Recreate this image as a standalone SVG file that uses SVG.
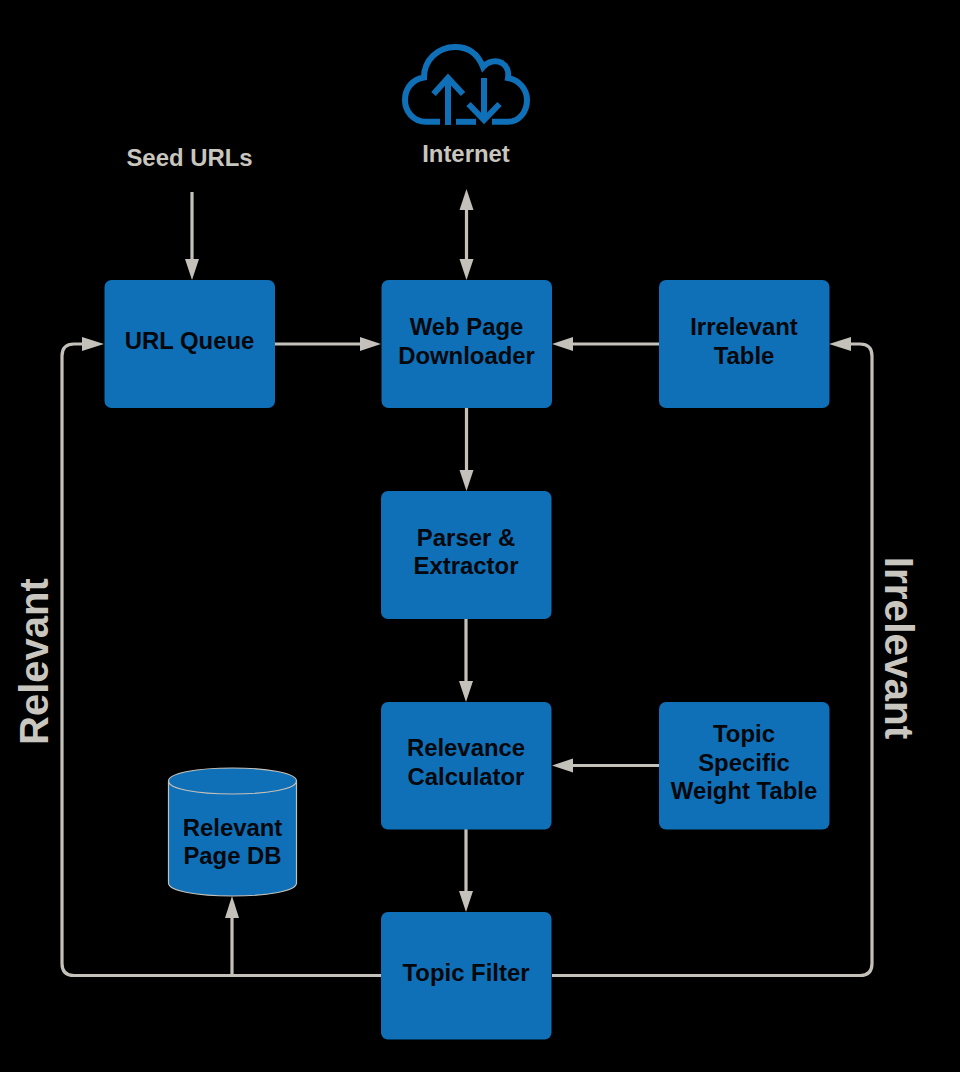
<svg xmlns="http://www.w3.org/2000/svg" width="960" height="1072" viewBox="0 0 960 1072">
<style>
.n{fill:#0f70b7}
.t{font-family:"Liberation Sans",Arial,sans-serif;font-weight:700;font-size:23.9px;fill:#04070b;text-anchor:middle}
.l{font-family:"Liberation Sans",Arial,sans-serif;font-weight:700;fill:#c9c6bf;text-anchor:middle}
.c{fill:none;stroke:#c4c1ba;stroke-width:3.2}
.a{fill:#c4c1ba}
.i{fill:none;stroke:#0f70b7;stroke-width:6}
</style>
<rect width="960" height="1072" fill="#000"/>
<g id="connectors">
<path class="c" d="M192 192V262"/><polygon class="a" points="192,280 185,259 199,259"/>
<path class="c" d="M466.500 208V262"/><polygon class="a" points="466.500,189 459.500,210 473.500,210"/><polygon class="a" points="466.500,280 459.500,259 473.500,259"/>
<path class="c" d="M275 344H362"/><polygon class="a" points="381,344 360,337 360,351"/>
<path class="c" d="M659 344H572"/><polygon class="a" points="552,344 573,337 573,351"/>
<path class="c" d="M466.500 408V472"/><polygon class="a" points="466.500,491 459.500,470 473.500,470"/>
<path class="c" d="M466 619V683"/><polygon class="a" points="466,702 459,681 473,681"/>
<path class="c" d="M659 765.500H572"/><polygon class="a" points="552,765.500 573,758.500 573,772.500"/>
<path class="c" d="M466 829V893"/><polygon class="a" points="466,912 459,891 473,891"/>
<path class="c" d="M381 975.500H74Q62 975.500 62 963.500V356Q62 344 74 344H85"/><polygon class="a" points="104,344 82,337 82,351"/>
<path class="c" d="M232 975V916"/><polygon class="a" points="232,896 225,918 239,918"/>
<path class="c" d="M552 975.500H860Q872 975.500 872 963.500V356Q872 344 860 344H849"/><polygon class="a" points="829,344 851,337 851,351"/>
</g>
<g id="internet">
<path class="i" d="M440 121.800H426C413 121.800 405 111 405 100C405 88 413 79 424 77.500C424 60 438 47 455 47C468 47 478 54 483 67C488 61 496 60 502 63C507 66 509 72 508 78C519 80 527 89 527 100C527 112 519 121.800 508 121.800H492"/>
<path class="i" d="M448 125V78M433.500 94L448 78L463 94"/>
<path class="i" d="M484 78V120M468.500 104L484 120L499.500 104"/>
<path class="i" d="M456 121.800H476"/>
<text class="l" x="466" y="161.500" font-size="23.900">Internet</text>
</g>
<text id="seed" class="l" x="189.500" y="165.500" font-size="23.900">Seed URLs</text>
<g id="url-queue"><rect class="n" x="104.500" y="280" width="170.500" height="128" rx="7"/><text class="t" x="189.500" y="349">URL Queue</text></g>
<g id="downloader"><rect class="n" x="381.500" y="280" width="170.500" height="128" rx="7"/><text class="t" x="466.500" y="335">Web Page</text><text class="t" x="466.500" y="364">Downloader</text></g>
<g id="irrelevant-table"><rect class="n" x="659" y="280" width="170.500" height="128" rx="7"/><text class="t" x="744" y="335">Irrelevant</text><text class="t" x="744" y="364">Table</text></g>
<g id="parser"><rect class="n" x="381" y="491" width="170.500" height="128" rx="7"/><text class="t" x="466" y="545.500">Parser &amp;</text><text class="t" x="466" y="574">Extractor</text></g>
<g id="calculator"><rect class="n" x="381" y="702" width="170.500" height="127.500" rx="7"/><text class="t" x="466" y="756">Relevance</text><text class="t" x="466" y="785">Calculator</text></g>
<g id="weight-table"><rect class="n" x="659" y="702" width="170.500" height="127.500" rx="7"/><text class="t" x="744" y="742">Topic</text><text class="t" x="744" y="770.500">Specific</text><text class="t" x="744" y="799">Weight Table</text></g>
<g id="topic-filter"><rect class="n" x="381" y="912" width="170.500" height="127.500" rx="7"/><text class="t" x="466" y="981">Topic Filter</text></g>
<g id="page-db">
<path class="n" stroke="#c4c1ba" stroke-width="1.200" d="M168.500 781C168.500 773 197 768 232.500 768C268 768 296.500 773 296.500 781V883C296.500 891 268 896 232.500 896C197 896 168.500 891 168.500 883Z"/>
<path fill="none" stroke="#c4c1ba" stroke-width="1.200" d="M168.500 781C168.500 789 197 794 232.500 794C268 794 296.500 789 296.500 781"/>
<text class="t" x="232.500" y="836">Relevant</text><text class="t" x="232.500" y="864">Page DB</text>
</g>
<text id="relevant" class="l" font-size="40" transform="translate(48 661.500) rotate(-90)" x="0" y="0">Relevant</text>
<text id="irrelevant" class="l" font-size="40.500" transform="translate(884.500 648) rotate(90)" x="0" y="0">Irrelevant</text>
</svg>
